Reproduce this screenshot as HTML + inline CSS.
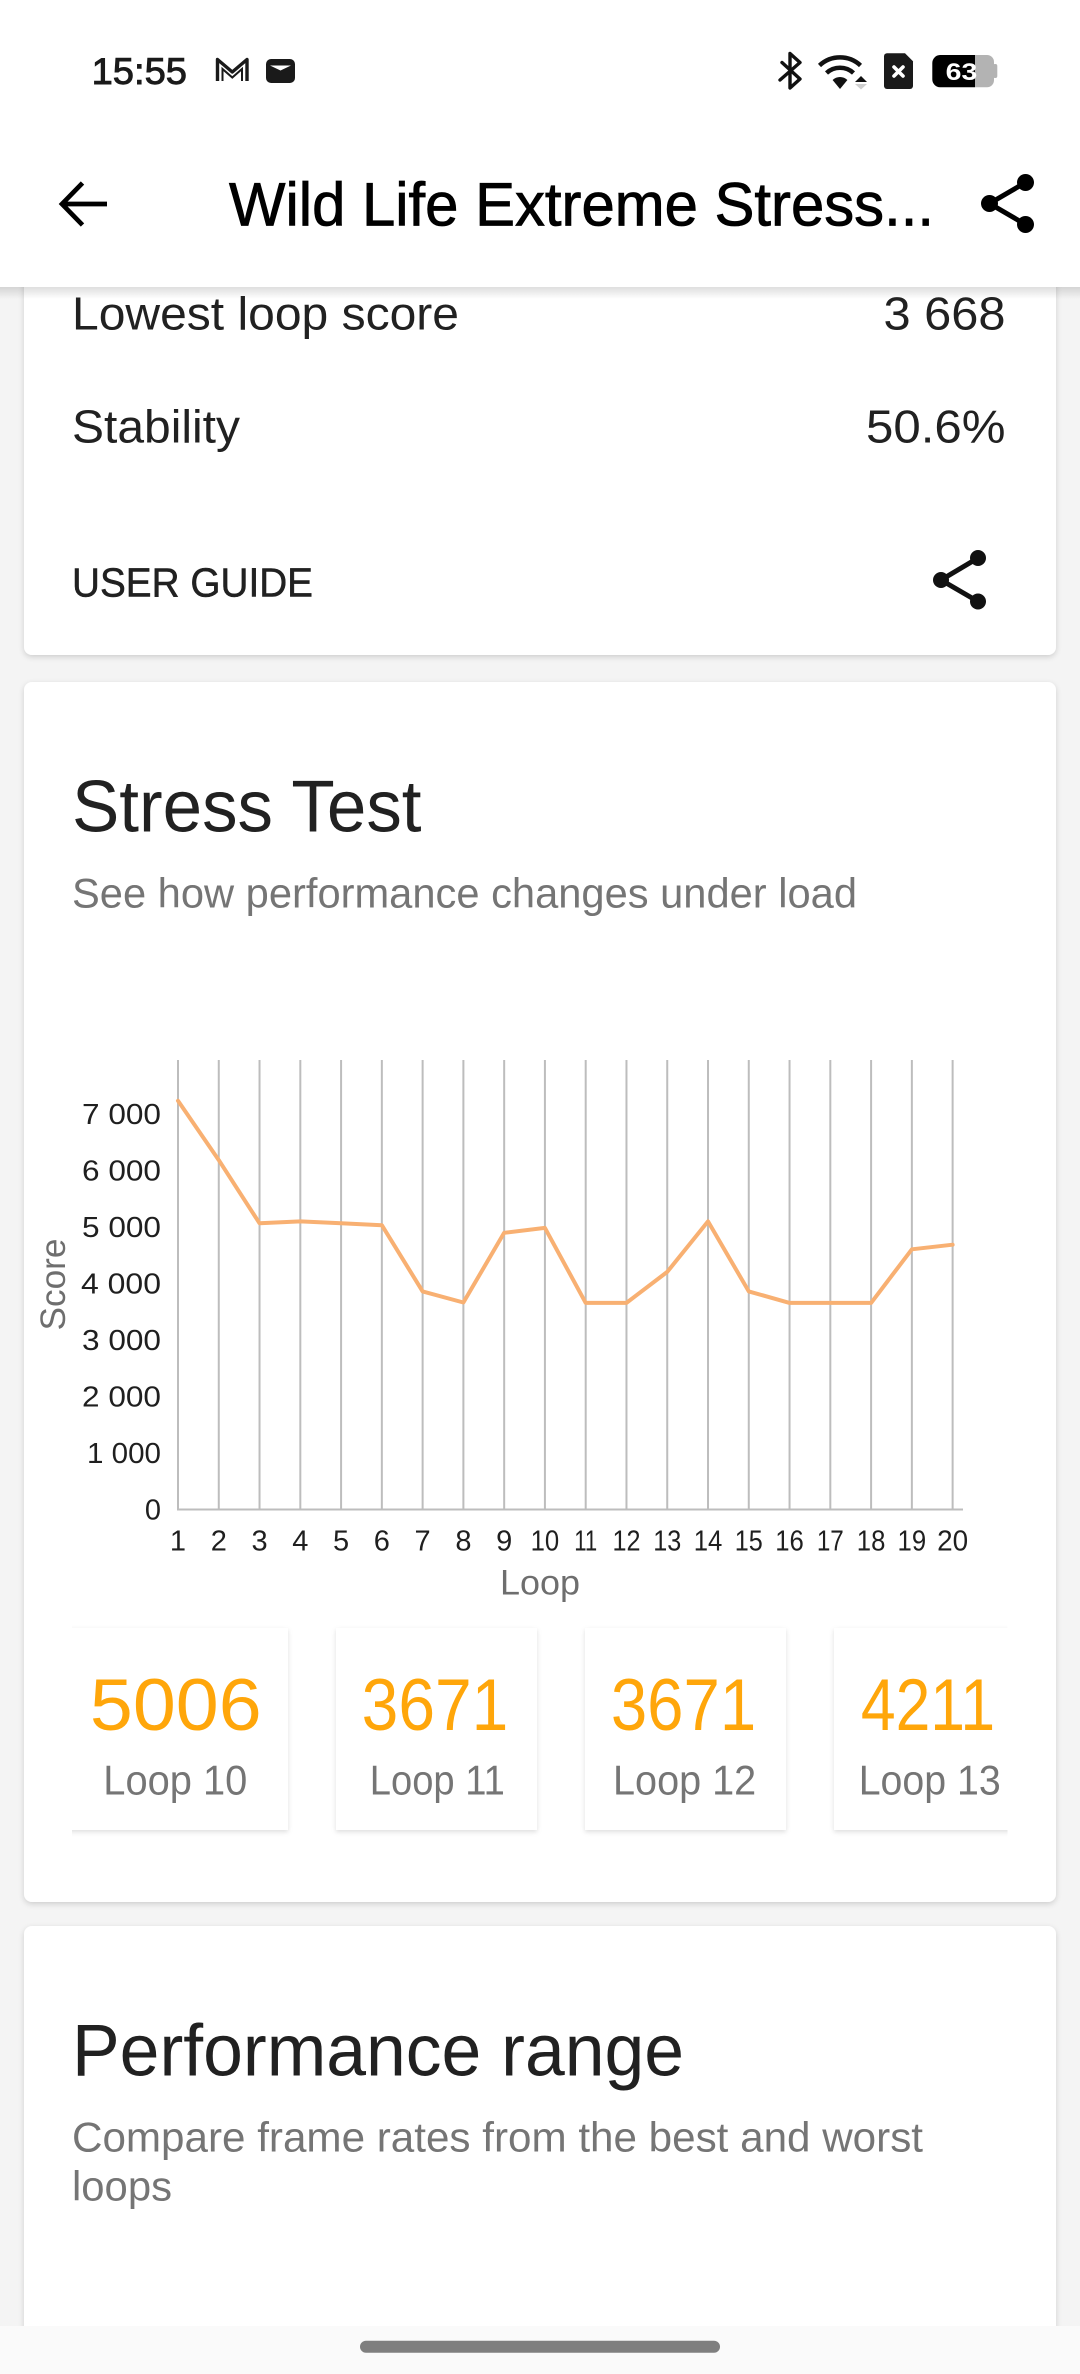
<!DOCTYPE html>
<html>
<head>
<meta charset="utf-8">
<style>
  html,body{margin:0;padding:0;background:#f4f4f4;}
  body{width:1080px;height:2374px;overflow:hidden;}
  svg{display:block;}
  text{font-family:"Liberation Sans", Arial, sans-serif;}
</style>
</head>
<body>
<svg width="1080" height="2374" viewBox="0 0 1080 2374" xmlns="http://www.w3.org/2000/svg">
  <defs>
    <filter id="sh" x="-5%" y="-5%" width="110%" height="115%">
      <feDropShadow dx="0" dy="2" stdDeviation="3" flood-color="#000" flood-opacity="0.16"/>
    </filter>
    <filter id="sh2" x="-10%" y="-10%" width="120%" height="125%">
      <feDropShadow dx="0" dy="2" stdDeviation="2.5" flood-color="#000" flood-opacity="0.13"/>
    </filter>
    <linearGradient id="hdrsh" x1="0" y1="0" x2="0" y2="1">
      <stop offset="0" stop-color="#000" stop-opacity="0.13"/>
      <stop offset="1" stop-color="#000" stop-opacity="0"/>
    </linearGradient>
    <clipPath id="scrollclip">
      <rect x="72" y="1600" width="935.5" height="270"/>
    </clipPath>
  </defs>

  <!-- page background -->
  <rect x="0" y="0" width="1080" height="2374" fill="#f4f4f4"/>

  <!-- cards -->
  <rect x="24" y="200" width="1032" height="455" rx="8" fill="#fff" filter="url(#sh)"/>
  <rect x="24" y="682" width="1032" height="1220" rx="8" fill="#fff" filter="url(#sh)"/>
  <rect x="24" y="1926" width="1032" height="470" rx="8" fill="#fff" filter="url(#sh)"/>

  <!-- Card 1 content -->
  <text x="72" y="329.3" font-size="46" fill="#212121" textLength="387" lengthAdjust="spacingAndGlyphs">Lowest loop score</text>
  <text x="1005.5" y="329.3" font-size="46" fill="#212121" text-anchor="end" textLength="122" lengthAdjust="spacingAndGlyphs">3 668</text>
  <text x="72" y="442.3" font-size="46" fill="#212121" textLength="168" lengthAdjust="spacingAndGlyphs">Stability</text>
  <text x="1005.5" y="442.3" font-size="46" fill="#212121" text-anchor="end" textLength="139.5" lengthAdjust="spacingAndGlyphs">50.6%</text>
  <text x="72" y="596.7" font-size="41" fill="#212121" stroke="#212121" stroke-width="0.5" textLength="241" lengthAdjust="spacingAndGlyphs">USER GUIDE</text>
  <!-- share icon card -->
  <g fill="#111" stroke="#111">
    <line x1="978" y1="558" x2="941" y2="580" stroke-width="5"/>
    <line x1="941" y1="580" x2="978" y2="601.5" stroke-width="5"/>
    <circle cx="978" cy="558" r="8" stroke="none"/>
    <circle cx="941" cy="580" r="8" stroke="none"/>
    <circle cx="978" cy="601.5" r="8" stroke="none"/>
  </g>

  <!-- Card 2 content -->
  <text x="72" y="831.7" font-size="73" fill="#212121" textLength="349.5" lengthAdjust="spacingAndGlyphs">Stress Test</text>
  <text x="72" y="907.3" font-size="42" fill="#757575" textLength="785" lengthAdjust="spacingAndGlyphs">See how performance changes under load</text>

  <!-- chart gridlines -->
  <g stroke="#bdbdbd" stroke-width="2">
    <line x1="178" y1="1060" x2="178" y2="1509.5"/>
    <line x1="218.77" y1="1060" x2="218.77" y2="1509.5"/>
    <line x1="259.54" y1="1060" x2="259.54" y2="1509.5"/>
    <line x1="300.31" y1="1060" x2="300.31" y2="1509.5"/>
    <line x1="341.08" y1="1060" x2="341.08" y2="1509.5"/>
    <line x1="381.85" y1="1060" x2="381.85" y2="1509.5"/>
    <line x1="422.62" y1="1060" x2="422.62" y2="1509.5"/>
    <line x1="463.39" y1="1060" x2="463.39" y2="1509.5"/>
    <line x1="504.16" y1="1060" x2="504.16" y2="1509.5"/>
    <line x1="544.93" y1="1060" x2="544.93" y2="1509.5"/>
    <line x1="585.7" y1="1060" x2="585.7" y2="1509.5"/>
    <line x1="626.47" y1="1060" x2="626.47" y2="1509.5"/>
    <line x1="667.24" y1="1060" x2="667.24" y2="1509.5"/>
    <line x1="708.01" y1="1060" x2="708.01" y2="1509.5"/>
    <line x1="748.78" y1="1060" x2="748.78" y2="1509.5"/>
    <line x1="789.55" y1="1060" x2="789.55" y2="1509.5"/>
    <line x1="830.32" y1="1060" x2="830.32" y2="1509.5"/>
    <line x1="871.09" y1="1060" x2="871.09" y2="1509.5"/>
    <line x1="911.86" y1="1060" x2="911.86" y2="1509.5"/>
    <line x1="952.63" y1="1060" x2="952.63" y2="1509.5"/>
    <line x1="177" y1="1509.5" x2="963" y2="1509.5"/>
  </g>

  <!-- y tick labels -->
  <g font-size="29" fill="#1f1f1f" text-anchor="end">
    <text x="161" y="1124" textLength="79" lengthAdjust="spacingAndGlyphs">7 000</text>
    <text x="161" y="1180.5" textLength="79" lengthAdjust="spacingAndGlyphs">6 000</text>
    <text x="161" y="1237" textLength="79" lengthAdjust="spacingAndGlyphs">5 000</text>
    <text x="161" y="1293.5" textLength="80" lengthAdjust="spacingAndGlyphs">4 000</text>
    <text x="161" y="1350" textLength="79" lengthAdjust="spacingAndGlyphs">3 000</text>
    <text x="161" y="1406.5" textLength="79" lengthAdjust="spacingAndGlyphs">2 000</text>
    <text x="161" y="1463" textLength="74" lengthAdjust="spacingAndGlyphs">1 000</text>
    <text x="161" y="1519.5">0</text>
  </g>

  <!-- x tick labels -->
  <g font-size="29" fill="#1f1f1f" text-anchor="middle">
    <text x="178" y="1550.5">1</text>
    <text x="218.77" y="1550.5">2</text>
    <text x="259.54" y="1550.5">3</text>
    <text x="300.31" y="1550.5">4</text>
    <text x="341.08" y="1550.5">5</text>
    <text x="381.85" y="1550.5">6</text>
    <text x="422.62" y="1550.5">7</text>
    <text x="463.39" y="1550.5">8</text>
    <text x="504.16" y="1550.5">9</text>
    <text x="544.93" y="1550.5" textLength="28.6" lengthAdjust="spacingAndGlyphs">10</text>
    <text x="585.7" y="1550.5" textLength="23" lengthAdjust="spacingAndGlyphs">11</text>
    <text x="626.47" y="1550.5" textLength="28" lengthAdjust="spacingAndGlyphs">12</text>
    <text x="667.24" y="1550.5" textLength="28" lengthAdjust="spacingAndGlyphs">13</text>
    <text x="708.01" y="1550.5" textLength="28.6" lengthAdjust="spacingAndGlyphs">14</text>
    <text x="748.78" y="1550.5" textLength="28" lengthAdjust="spacingAndGlyphs">15</text>
    <text x="789.55" y="1550.5" textLength="28.6" lengthAdjust="spacingAndGlyphs">16</text>
    <text x="830.32" y="1550.5" textLength="27" lengthAdjust="spacingAndGlyphs">17</text>
    <text x="871.09" y="1550.5" textLength="28.6" lengthAdjust="spacingAndGlyphs">18</text>
    <text x="911.86" y="1550.5" textLength="28.6" lengthAdjust="spacingAndGlyphs">19</text>
    <text x="952.63" y="1550.5" textLength="31" lengthAdjust="spacingAndGlyphs">20</text>
  </g>

  <!-- axis titles -->
  <text x="500" y="1594.5" font-size="35" fill="#6e6e6e" textLength="80" lengthAdjust="spacingAndGlyphs">Loop</text>
  <text transform="translate(65,1284.5) rotate(-90)" x="0" y="0" font-size="35" fill="#6e6e6e" text-anchor="middle" textLength="92" lengthAdjust="spacingAndGlyphs">Score</text>

  <!-- data line -->
  <polyline fill="none" stroke="#F8B072" stroke-width="4" stroke-linejoin="round" stroke-linecap="round"
    points="178,1100.8 218.77,1160.1 259.54,1223.3 300.31,1221.4 341.08,1223.3 381.85,1225.2 422.62,1291.4 463.39,1302.5 504.16,1232.8 544.93,1227.9 585.7,1302.9 626.47,1302.9 667.24,1271.9 708.01,1221.4 748.78,1291.4 789.55,1302.9 830.32,1302.9 871.09,1302.9 911.86,1249.3 952.63,1244.7"/>

  <!-- loop cards (scroll row) -->
  <g clip-path="url(#scrollclip)">
    <rect x="60" y="1628" width="228" height="202" fill="#fff" filter="url(#sh2)"/>
    <rect x="336" y="1628" width="201" height="202" fill="#fff" filter="url(#sh2)"/>
    <rect x="585" y="1628" width="201" height="202" fill="#fff" filter="url(#sh2)"/>
    <rect x="834" y="1628" width="201" height="202" fill="#fff" filter="url(#sh2)"/>

    <g font-size="73.5" fill="#FFA60A" text-anchor="middle">
      <text x="175.8" y="1730" textLength="171.7" lengthAdjust="spacingAndGlyphs">5006</text>
      <text x="435" y="1730" textLength="146.7" lengthAdjust="spacingAndGlyphs">3671</text>
      <text x="683.5" y="1730" textLength="145.3" lengthAdjust="spacingAndGlyphs">3671</text>
      <text x="928" y="1730" textLength="134.3" lengthAdjust="spacingAndGlyphs">4211</text>
    </g>
    <g font-size="41.5" fill="#757575" text-anchor="middle">
      <text x="175.3" y="1794.3" textLength="144" lengthAdjust="spacingAndGlyphs">Loop 10</text>
      <text x="437.3" y="1794.3" textLength="135" lengthAdjust="spacingAndGlyphs">Loop 11</text>
      <text x="684.6" y="1794.3" textLength="143.2" lengthAdjust="spacingAndGlyphs">Loop 12</text>
      <text x="929.7" y="1794.3" textLength="142" lengthAdjust="spacingAndGlyphs">Loop 13</text>
    </g>
  </g>

  <!-- Card 3 content -->
  <text x="72" y="2075.7" font-size="73" fill="#212121" textLength="612" lengthAdjust="spacingAndGlyphs">Performance range</text>
  <text x="72" y="2151.7" font-size="42" fill="#757575" textLength="851" lengthAdjust="spacingAndGlyphs">Compare frame rates from the best and worst</text>
  <text x="72" y="2200.7" font-size="42" fill="#757575" textLength="100" lengthAdjust="spacingAndGlyphs">loops</text>

  <!-- nav bar -->
  <rect x="0" y="2326" width="1080" height="48" fill="#fafafa"/>
  <rect x="360" y="2340.7" width="360" height="12" rx="6" fill="#7f7f7f"/>

  <!-- header -->
  <rect x="0" y="0" width="1080" height="287" fill="#fff"/>
  <rect x="0" y="287" width="1080" height="12" fill="url(#hdrsh)"/>

  <!-- status bar -->
  <text x="91.6" y="84" font-size="37" fill="#1a1a1a" stroke="#1a1a1a" stroke-width="0.9" textLength="95.4" lengthAdjust="spacingAndGlyphs">15:55</text>
  <!-- gmail M -->
  <path d="M217.5,81 V59.5 L232.3,72 L247,59.5 V81" fill="none" stroke="#1a1a1a" stroke-width="3.4" stroke-linejoin="round"/>
  <path d="M222.5,81 V69 L232.3,77.5 L242,69 V81" fill="none" stroke="#1a1a1a" stroke-width="2"/>
  <!-- wallet -->
  <rect x="266" y="59" width="29" height="24" rx="5" fill="#1a1a1a"/>
  <path d="M270,65.5 H291 L280.5,70.5 Z" fill="#fff"/>
  <!-- bluetooth -->
  <path d="M782,62.5 L800,79 L790,88 V53.5 L800,62.5 L780,80" fill="none" stroke="#111" stroke-width="3.4" stroke-linejoin="round" stroke-linecap="round"/>
  <!-- wifi -->
  <g fill="none" stroke="#111" stroke-width="4.5">
    <path d="M819.5,65.5 A30,30 0 0 1 860.5,65.5"/>
    <path d="M826.5,73 A20,20 0 0 1 853.5,73"/>
  </g>
  <path d="M840,89 L832.6,80 A10.5,10.5 0 0 1 847.4,80 Z" fill="#111"/>
  <path d="M861,76 L867,82 L855,82 Z" fill="#111"/>
  <path d="M855,84 L867,84 L861,89.5 Z" fill="#cfcfcf"/>
  <!-- sim -->
  <path d="M887,53.3 H905 L913,61.3 V86 A3,3 0 0 1 910,89 H887 A3,3 0 0 1 884,86 V56.3 A3,3 0 0 1 887,53.3 Z" fill="#1a1a1a"/>
  <path d="M894,67 L903,76 M903,67 L894,76" stroke="#fff" stroke-width="3.6" stroke-linecap="round"/>
  <!-- battery -->
  <path d="M975,55 H987 A7,7 0 0 1 994,62 V80.3 A7,7 0 0 1 987,87.3 H975 Z" fill="#b3b3b3"/>
  <rect x="993" y="64" width="4.3" height="14" rx="2" fill="#b3b3b3"/>
  <path d="M975,55 H940 A8,8 0 0 0 932.3,63 V79.3 A8,8 0 0 0 940,87.3 H975 Z" fill="#000"/>
  <text x="945.7" y="80" font-size="24" font-weight="bold" fill="#fff" textLength="31.6" lengthAdjust="spacingAndGlyphs">63</text>

  <!-- toolbar -->
  <path d="M107,204 H63 M82.5,183 L62,204 L82.5,225" fill="none" stroke="#000" stroke-width="4.7" stroke-linecap="butt" stroke-linejoin="miter"/>
  <text x="229" y="225.7" font-size="61" fill="#000" stroke="#000" stroke-width="0.8" textLength="705" lengthAdjust="spacingAndGlyphs">Wild Life Extreme Stress...</text>
  <g fill="#000" stroke="#000">
    <line x1="1025.5" y1="182.5" x2="989.5" y2="203.5" stroke-width="5"/>
    <line x1="989.5" y1="203.5" x2="1025.5" y2="224.5" stroke-width="5"/>
    <circle cx="1025.5" cy="182.5" r="8.5" stroke="none"/>
    <circle cx="989.5" cy="203.5" r="8.5" stroke="none"/>
    <circle cx="1025.5" cy="224.5" r="8.5" stroke="none"/>
  </g>
</svg>
</body>
</html>
